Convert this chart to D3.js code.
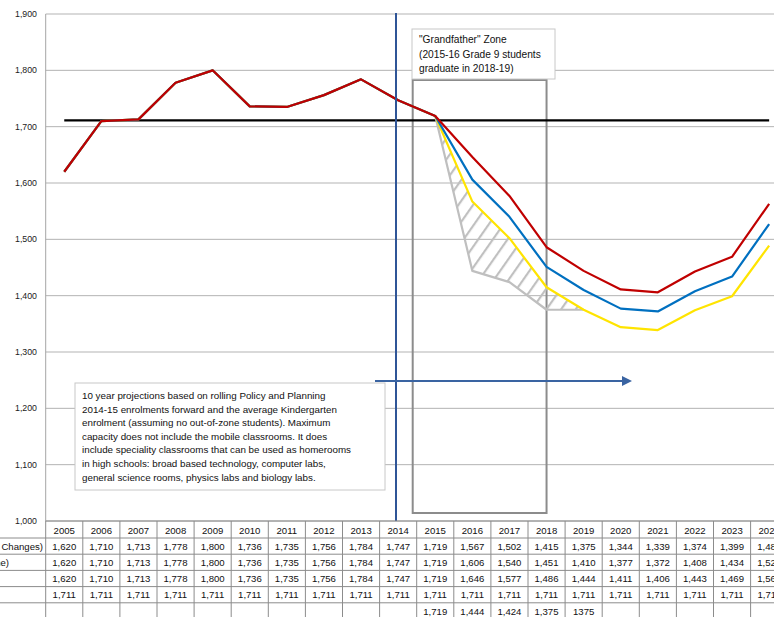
<!DOCTYPE html>
<html>
<head>
<meta charset="utf-8">
<script src="https://cdn.jsdelivr.net/npm/d3@7"></script>
<style>
  body { margin: 0; background: #fff; }
  svg { display: block; font-family: "Liberation Sans", Arial, sans-serif; }
</style>
</head>
<body>
<div id="chart"></div>
<script>
// enrolment data
const years = [2005, 2006, 2007, 2008, 2009, 2010, 2011, 2012, 2013, 2014,
               2015, 2016, 2017, 2018, 2019, 2020, 2021, 2022, 2023, 2024];
const policyChanges = [1620, 1710, 1713, 1778, 1800, 1736, 1735, 1756, 1784, 1747,
                       1719, 1567, 1502, 1415, 1375, 1344, 1339, 1374, 1399, 1489];
const midScenario = [1620, 1710, 1713, 1778, 1800, 1736, 1735, 1756, 1784, 1747,
                     1719, 1606, 1540, 1451, 1410, 1377, 1372, 1408, 1434, 1527];
const statusQuo = [1620, 1710, 1713, 1778, 1800, 1736, 1735, 1756, 1784, 1747,
                   1719, 1646, 1577, 1486, 1444, 1411, 1406, 1443, 1469, 1563];
const capacity = [1711, 1711, 1711, 1711, 1711, 1711, 1711, 1711, 1711, 1711,
                  1711, 1711, 1711, 1711, 1711, 1711, 1711, 1711, 1711, 1711];
const grandYears = [2015, 2016, 2017, 2018, 2019];
const grandfather = [1719, 1444, 1424, 1375, 1375];
const grandLabels = ["1,719", "1,444", "1,424", "1,375", "1375"];
const yTicks = [1000, 1100, 1200, 1300, 1400, 1500, 1600, 1700, 1800, 1900];
const rowNames = ["Enrolment Projection (With Policy Changes)", "Enrolment Projection (Status Quo Baseline)", "", "", ""];

const W = 774, H = 617;
const left = 45.7, colW = 37.1;
const tableTop = 521, rowH = 16.2, headH = 17;

const fmt = d3.format(",");
const x = d3.scaleBand().domain(years).range([left, left + colW * years.length]);
const xc = d => x(d) + x.bandwidth() / 2;
const y = d3.scaleLinear().domain([1000, 1900]).range([521, 14]);

const svg = d3.select("#chart").append("svg")
    .attr("width", W).attr("height", H);

const defs = svg.append("defs");
defs.append("pattern")
    .attr("id", "hatch")
    .attr("patternUnits", "userSpaceOnUse")
    .attr("width", 12).attr("height", 12)
    .attr("patternTransform", "rotate(35)")
    .append("line")
    .attr("x1", 1).attr("y1", 0).attr("x2", 1).attr("y2", 12)
    .attr("stroke", "#c0c0c0").attr("stroke-width", 2.4);
defs.append("marker")
    .attr("id", "arrow")
    .attr("viewBox", "0 0 10 10")
    .attr("refX", 8).attr("refY", 5)
    .attr("markerWidth", 5).attr("markerHeight", 5)
    .attr("orient", "auto")
    .append("path").attr("d", "M0,0 L10,5 L0,10 z").attr("fill", "#3a64a2");

// horizontal gridlines + y labels
svg.append("g").selectAll("line").data(yTicks).enter().append("line")
    .attr("x1", left).attr("x2", W)
    .attr("y1", d => y(d)).attr("y2", d => y(d))
    .attr("stroke", "#b3b3b3").attr("stroke-width", 1);
svg.append("line").attr("x1", left).attr("x2", left)
    .attr("y1", y(1900)).attr("y2", y(1000))
    .attr("stroke", "#a6a6a6");
svg.append("g").selectAll("text").data(yTicks).enter().append("text")
    .attr("x", 37).attr("y", d => y(d) + 3)
    .attr("text-anchor", "end").attr("font-size", 8.8).attr("fill", "#222")
    .text(d => fmt(d));

// grandfather zone box
const zx0 = x(2015) - 4, zx1 = xc(2018);
svg.append("rect")
    .attr("x", zx0).attr("y", 80)
    .attr("width", zx1 - zx0).attr("height", y(1000) - 8 - 80)
    .attr("fill", "none").attr("stroke", "#8c8c8c").attr("stroke-width", 2);

// hatched gap between grandfather line and lowest projection
const gapData = grandYears.map((yr, i) => ({ yr: yr, lo: grandfather[i], hi: policyChanges[years.indexOf(yr)] }));
svg.append("path").datum(gapData)
    .attr("d", d3.area().x(d => xc(d.yr)).y0(d => y(d.lo)).y1(d => y(d.hi)))
    .attr("fill", "url(#hatch)");

const line = d3.line().x(d => xc(d[0])).y(d => y(d[1]));
const series = [
    { v: capacity, yrs: years, color: "#000000", w: 2.2 },
    { v: grandfather, yrs: grandYears, color: "#bfbfbf", w: 2.2 },
    { v: policyChanges, yrs: years, color: "#ffe400", w: 2.2 },
    { v: midScenario, yrs: years, color: "#0070c0", w: 2.2 },
    { v: statusQuo, yrs: years, color: "#c00000", w: 2.2 }
];
svg.append("g").selectAll("path").data(series).enter().append("path")
    .attr("d", s => line(s.yrs.map((yr, i) => [yr, s.v[i]])))
    .attr("fill", "none")
    .attr("stroke", s => s.color)
    .attr("stroke-width", s => s.w)
    .attr("stroke-linejoin", "round");

// grandfather label box
const gBox = svg.append("g");
gBox.append("rect").attr("x", 412).attr("y", 29).attr("width", 143).attr("height", 50)
    .attr("fill", "#fff").attr("stroke", "#c8c8c8");
gBox.selectAll("text").data(['"Grandfather" Zone', "(2015-16 Grade 9 students", "graduate in 2018-19)"])
    .enter().append("text")
    .attr("x", 419).attr("y", (d, i) => 43 + i * 14.5)
    .attr("font-size", 10.2).attr("fill", "#111")
    .text(d => d);

// note box
const note = [
    "10 year projections based on rolling Policy and Planning",
    "2014-15  enrolments forward and the average Kindergarten",
    "enrolment (assuming no out-of-zone students). Maximum",
    "capacity does not include the mobile classrooms. It does",
    "include speciality classrooms that can be used as homerooms",
    "in high schools: broad based technology, computer labs,",
    "general science rooms, physics labs and biology labs."
];
svg.append("rect").attr("x", 75).attr("y", 383).attr("width", 310).attr("height", 107)
    .attr("fill", "#fff").attr("stroke", "#c8c8c8");
svg.append("g").selectAll("text").data(note).enter().append("text")
    .attr("x", 82).attr("y", (d, i) => 399 + i * 13.6)
    .attr("font-size", 9.8).attr("fill", "#111")
    .text(d => d);

// 2014 marker and projection arrow
svg.append("line").attr("x1", 396).attr("x2", 396).attr("y1", 13).attr("y2", tableTop)
    .attr("stroke", "#2f5597").attr("stroke-width", 2);
svg.append("line").attr("x1", 375).attr("x2", 630).attr("y1", 381).attr("y2", 381)
    .attr("stroke", "#3a64a2").attr("stroke-width", 2)
    .attr("marker-end", "url(#arrow)");

// data table
const table = svg.append("g");
const rows = [policyChanges, midScenario, statusQuo, capacity];
const rowY = i => tableTop + headH + i * rowH;
const tableBottom = rowY(5);
table.append("line").attr("x1", left).attr("x2", W).attr("y1", tableTop).attr("y2", tableTop)
    .attr("stroke", "#8c8c8c");
for (let i = 0; i <= 5; i++) {
    table.append("line").attr("x1", 0).attr("x2", W).attr("y1", rowY(i)).attr("y2", rowY(i))
        .attr("stroke", "#8c8c8c");
}
table.selectAll(".vline").data(years.concat([2025])).enter().append("line")
    .attr("x1", (d, i) => left + i * colW).attr("x2", (d, i) => left + i * colW)
    .attr("y1", tableTop).attr("y2", tableBottom + 2)
    .attr("stroke", "#8c8c8c");
table.selectAll(".head").data(years).enter().append("text")
    .attr("x", d => xc(d)).attr("y", tableTop + 12.5)
    .attr("text-anchor", "middle").attr("font-size", 9.6).attr("fill", "#111")
    .text(d => d);
rows.forEach((vals, r) => {
    table.append("g").selectAll("text").data(vals).enter().append("text")
        .attr("x", (d, i) => xc(years[i])).attr("y", rowY(r) + 11.8)
        .attr("text-anchor", "middle").attr("font-size", 9.6).attr("fill", "#111")
        .text(d => fmt(d));
});
table.append("g").selectAll("text").data(grandLabels).enter().append("text")
    .attr("x", (d, i) => xc(grandYears[i])).attr("y", rowY(4) + 11.8)
    .attr("text-anchor", "middle").attr("font-size", 9.6).attr("fill", "#111")
    .text(d => d);
const labelEnds = [43, 9];
table.append("g").selectAll("text").data(rowNames.slice(0, 2)).enter().append("text")
    .attr("x", (d, i) => labelEnds[i]).attr("y", (d, i) => rowY(i) + 11.8)
    .attr("text-anchor", "end").attr("font-size", 9.6).attr("fill", "#111")
    .text(d => d);
</script>
</body>
</html>
